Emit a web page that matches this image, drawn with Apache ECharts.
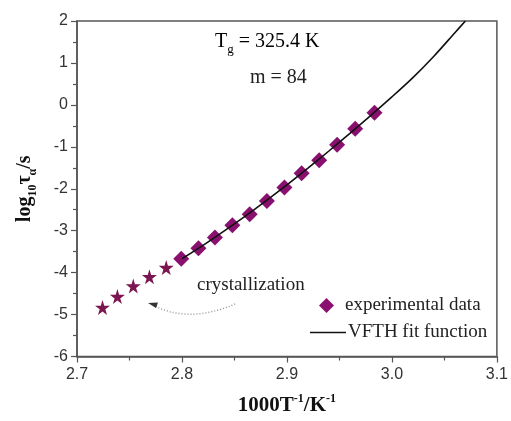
<!DOCTYPE html>
<html>
<head>
<meta charset="utf-8">
<script src="https://cdn.jsdelivr.net/npm/echarts@6/dist/echarts.min.js"></script>
<style>
  html, body { margin: 0; padding: 0; background: #fff; }
  #chart { width: 511px; height: 421px; }
</style>
</head>
<body>
<div id="chart"></div>
<script>
// Relaxation times above the crystallization onset (stars)
const crystX = [2.7243, 2.7385, 2.7536, 2.769, 2.785];
const crystY = [-4.83, -4.57, -4.32, -4.10, -3.88];

// Experimental relaxation data (diamonds)
const expX = [2.7993, 2.8157, 2.8314, 2.848, 2.8645, 2.8809, 2.8976, 2.914, 2.9307, 2.9478, 2.965, 2.9834];
const expY = [-3.67, -3.42, -3.16, -2.87, -2.61, -2.29, -1.97, -1.63, -1.32, -0.95, -0.57, -0.19];

// VFTH fit curve, sampled along its length
const fitX = [2.80, 2.82, 2.84, 2.86, 2.88, 2.90, 2.92, 2.94, 2.96, 2.98, 3.00, 3.02, 3.04, 3.06, 3.07];
const fitY = [-3.67, -3.35, -3.01, -2.66, -2.29, -1.91, -1.51, -1.10, -0.68, -0.25, 0.19, 0.65, 1.16, 1.72, 2.0];

// Axis ticks
const xTicks = [2.7, 2.8, 2.9, 3.0, 3.1];
const yTicks = [-6, -5, -4, -3, -2, -1, 0, 1, 2];

const zip = (xs, ys) => xs.map((x, i) => [x, ys[i]]);

const SERIF = '"Liberation Serif", "DejaVu Serif", serif';
const SANS = '"Liberation Sans", Arial, sans-serif';
const AXIS_COLOR = '#555';
const STAR = 'path://M50,0 L61,35 L98,35 L68,57 L79,91 L50,70 L21,91 L32,57 L2,35 L39,35 Z';

const chart = echarts.init(document.getElementById('chart'), null, { renderer: 'canvas' });

const axisCommon = {
  axisLine: { show: true, onZero: false, lineStyle: { color: AXIS_COLOR, width: 1.5 } },
  axisTick: { show: true, inside: false, length: 6, lineStyle: { color: AXIS_COLOR, width: 1.2 } },
  minorTick: { show: true, splitNumber: 2, length: 4, lineStyle: { color: AXIS_COLOR, width: 1.2 } },
  splitLine: { show: false },
  minorSplitLine: { show: false }
};

chart.setOption({
  animation: false,
  backgroundColor: '#fff',
  grid: {
    left: 77, right: 11, top: 21, bottom: 63,
    show: true, borderColor: AXIS_COLOR, borderWidth: 1.5, backgroundColor: 'transparent'
  },
  xAxis: Object.assign({
    type: 'value',
    min: xTicks[0], max: xTicks[xTicks.length - 1], interval: 0.1,
    axisLabel: {
      color: '#333', fontFamily: SANS, fontSize: 16, margin: 10,
      formatter: v => v.toFixed(1)
    },
    name: '{a|1000T}{p|-1}{a|/K}{p|-1}',
    nameLocation: 'middle',
    nameGap: 36,
    nameTextStyle: {
      rich: {
        a: { fontFamily: SERIF, fontSize: 21, fontWeight: 'bold', color: '#111', lineHeight: 26 },
        p: { fontFamily: SERIF, fontSize: 12, fontWeight: 'bold', color: '#111', verticalAlign: 'top', lineHeight: 14 }
      }
    }
  }, axisCommon),
  yAxis: Object.assign({
    type: 'value',
    min: yTicks[0], max: yTicks[yTicks.length - 1], interval: 1,
    axisLabel: { color: '#333', fontFamily: SANS, fontSize: 16, margin: 9 },
    name: '{a|log}{s|10}{a|τ}{s|α}{a|/s}',
    nameLocation: 'middle',
    nameRotate: 90,
    nameGap: 38,
    nameTextStyle: {
      rich: {
        a: { fontFamily: SERIF, fontSize: 20, fontWeight: 'bold', color: '#111', lineHeight: 28 },
        s: { fontFamily: SERIF, fontSize: 12, fontWeight: 'bold', color: '#111', verticalAlign: 'bottom', lineHeight: 14 }
      }
    }
  }, axisCommon),
  legend: [
    {
      data: [{ name: 'experimental data', icon: 'diamond' }],
      left: 314, top: 291, itemWidth: 15, itemHeight: 15,
      textStyle: { fontFamily: SERIF, fontSize: 19, color: '#222', padding: [0, 0, 0, 6] }
    },
    {
      data: [{ name: 'VFTH fit function', icon: 'rect', itemStyle: { color: '#111' } }],
      left: 305, top: 318, itemWidth: 36, itemHeight: 1.6,
      textStyle: { fontFamily: SERIF, fontSize: 19, color: '#222', padding: [0, 0, 0, -3] }
    }
  ],
  series: [
    {
      name: 'crystallization',
      type: 'scatter',
      data: zip(crystX, crystY),
      symbol: STAR,
      symbolSize: 15,
      itemStyle: { color: '#7b1650', opacity: 1 },
      z: 2
    },
    {
      name: 'experimental data',
      type: 'scatter',
      data: zip(expX, expY),
      symbol: 'diamond',
      symbolSize: 16,
      itemStyle: { color: '#8a1070', opacity: 1 },
      z: 2
    },
    {
      name: 'VFTH fit function',
      type: 'line',
      data: zip(fitX, fitY),
      smooth: 0.3,
      symbol: 'none',
      showSymbol: false,
      lineStyle: { color: '#111', width: 1.6 },
      itemStyle: { color: '#111' },
      z: 3
    }
  ],
  graphic: [
    {
      type: 'text', left: 215, top: 32,
      style: {
        text: '{a|T}{s|g}{a| = 325.4 K}',
        rich: {
          a: { fontFamily: SERIF, fontSize: 20, color: '#222', lineHeight: 28 },
          s: { fontFamily: SERIF, fontSize: 13, color: '#222', verticalAlign: 'bottom', lineHeight: 12 }
        }
      }
    },
    {
      type: 'text', left: 250, top: 68,
      style: { text: 'm = 84', fontFamily: SERIF, fontSize: 20, fill: '#222' }
    },
    {
      type: 'text', left: 197, top: 276,
      style: { text: 'crystallization', fontFamily: SERIF, fontSize: 19, fill: '#222' }
    },
    {
      type: 'bezierCurve',
      shape: { x1: 235, y1: 304, cpx1: 212, cpy1: 314, cpx2: 182, cpy2: 320, x2: 155, y2: 306 },
      style: { stroke: '#999', lineWidth: 1.5, lineDash: [1, 2], fill: null }
    },
    {
      type: 'polygon',
      shape: { points: [[148, 303], [158, 302.5], [156, 308]] },
      style: { fill: '#333' }
    }
  ]
});
</script>
</body>
</html>
